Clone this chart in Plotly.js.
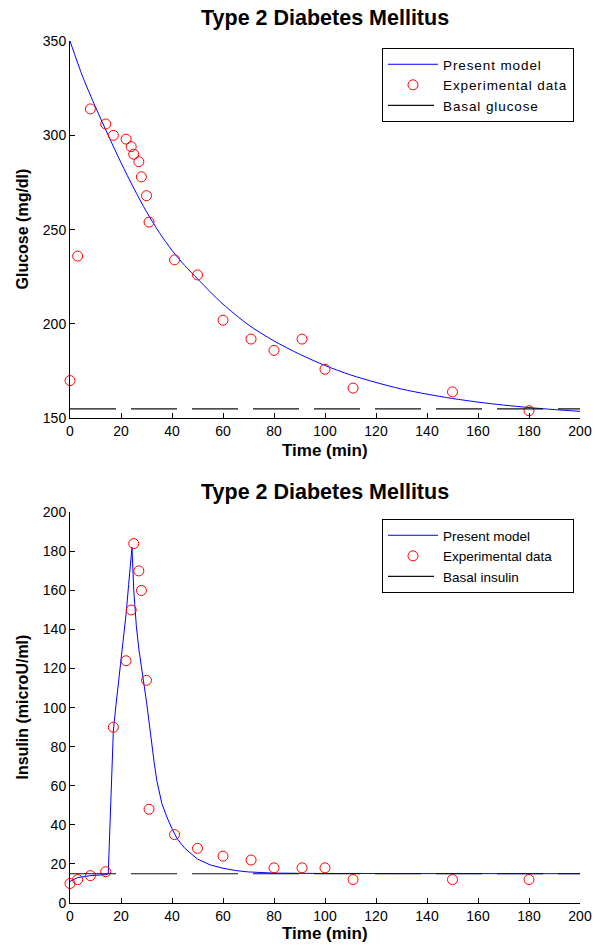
<!DOCTYPE html>
<html>
<head>
<meta charset="utf-8">
<script src="https://cdn.plot.ly/plotly-3.0.1.min.js"></script>
<style>
  html, body { margin: 0; padding: 0; background: #ffffff; }
  #chart { width: 605px; height: 945px; }
  .legendtext { letter-spacing: 0.9px; }
</style>
</head>
<body>
<div id="chart"></div>
<script>
// ---------------- data ----------------
const xTickVals = [0, 20, 40, 60, 80, 100, 120, 140, 160, 180, 200];
const glucoseTickVals = [150, 200, 250, 300, 350];
const insulinTickVals = [0, 20, 40, 60, 80, 100, 120, 140, 160, 180, 200];

// Experimental data (same sampling times for both panels)
const expTime = [0, 3, 8, 14, 17, 22, 24, 25, 27, 28, 30, 31, 41, 50, 60, 71, 80, 91, 100, 111, 150, 180];
const expGlucose = [170, 236, 314, 306, 300, 298, 294, 290, 286, 278, 268, 254, 234, 226, 202, 192, 186, 192, 176, 166, 164, 154];
const expInsulin = [10, 12, 14, 16, 90, 124, 150, 184, 170, 160, 114, 48, 35, 28, 24, 22, 18, 18, 18, 12, 12, 12];

// Present model – glucose
const modelGlucoseTime = [0, 5, 10, 15, 20, 25, 30, 35, 40, 45, 50, 55, 60, 70, 80, 90, 100, 110, 120, 130, 140, 150, 160, 170, 180, 190, 200];
const modelGlucose = [350, 331, 315, 300, 285.5, 272, 259.5, 248.5, 239, 231, 224, 217, 210.5, 199.5, 191, 184, 178, 173, 169, 165.5, 162.8, 160.5, 158.6, 157, 155.7, 154.6, 153.7];

// Present model – insulin
const modelInsulinTime = [0, 3, 8, 14, 15, 16, 17, 18, 19, 20, 21, 22, 23, 24, 24.3, 25, 25.5, 26, 27, 28, 29, 30, 31, 32, 33, 34, 35, 36, 38, 40, 42, 45, 50, 55, 60, 65, 70, 80, 100, 200];
const modelInsulin = [11, 13, 14, 14.5, 15, 52, 88, 101, 113, 122, 135, 148, 163, 180, 182, 160, 150, 142, 130, 120, 112, 103, 92, 82, 72, 63, 56, 51, 44, 38, 33, 28, 22.5, 19.5, 17.8, 16.6, 15.9, 15.3, 15.1, 15];

// Basal levels
const basalTime = [0, 200];
const basalGlucose = [155, 155];
const basalInsulin = [15, 15];

// ---------------- styling / layout ----------------
const FONT = 'Liberation Sans, Arial, Helvetica, sans-serif';
const W = 605, H = 945;
const M = { l: 70, r: 25, t: 41, b: 42 };
const py = pix => (H - M.b - pix) / (H - M.t - M.b);   // pixel row -> paper y
const px = pix => (pix - M.l) / (W - M.l - M.r);       // pixel col -> paper x

const modelLine = { color: '#0000ff', width: 1 };
const basalLine = { color: '#111111', width: 1.1, dash: '46px,15px' };
const expMarker = { symbol: 'circle-open', size: 10, color: '#ff0000', line: { width: 1, color: '#ff0000' } };

const traces = [
  { x: modelGlucoseTime, y: modelGlucose, type: 'scatter', mode: 'lines', name: 'Present model',
    line: Object.assign({ shape: 'spline', smoothing: 0.8 }, modelLine), xaxis: 'x', yaxis: 'y', legend: 'legend' },
  { x: expTime, y: expGlucose, type: 'scatter', mode: 'markers', name: 'Experimental data',
    marker: expMarker, cliponaxis: false, xaxis: 'x', yaxis: 'y', legend: 'legend' },
  { x: basalTime, y: basalGlucose, type: 'scatter', mode: 'lines', name: 'Basal glucose',
    line: basalLine, xaxis: 'x', yaxis: 'y', legend: 'legend' },

  { x: modelInsulinTime, y: modelInsulin, type: 'scatter', mode: 'lines', name: 'Present model',
    line: modelLine, xaxis: 'x2', yaxis: 'y2', legend: 'legend2' },
  { x: expTime, y: expInsulin, type: 'scatter', mode: 'markers', name: 'Experimental data',
    marker: expMarker, cliponaxis: false, xaxis: 'x2', yaxis: 'y2', legend: 'legend2' },
  { x: basalTime, y: basalInsulin, type: 'scatter', mode: 'lines', name: 'Basal insulin',
    line: basalLine, xaxis: 'x2', yaxis: 'y2', legend: 'legend2' }
];

const axisCommon = {
  showline: true, linecolor: '#000', linewidth: 1,
  ticks: 'inside', ticklen: 5, tickwidth: 1, tickcolor: '#000',
  showgrid: false, zeroline: false,
  tickfont: { family: FONT, size: 14, color: '#000' }
};

const legendCommon = {
  xanchor: 'left', yanchor: 'top',
  bgcolor: '#fff', bordercolor: '#000', borderwidth: 1,
  font: { family: FONT, size: 13.5, color: '#000' },
  itemwidth: 50, tracegroupgap: 0
};

const titleFont = { family: FONT, size: 21.5, color: '#000' };
const axTitleFont = { family: FONT, size: 17, color: '#000' };
const yTitleFont = { family: FONT, size: 16, color: '#000' };

const layout = {
  width: W, height: H,
  margin: M,
  paper_bgcolor: '#fff', plot_bgcolor: '#fff',
  showlegend: true,
  xaxis: Object.assign({}, axisCommon, { domain: [0, 1], range: [0, 200], tickvals: xTickVals, anchor: 'y' }),
  yaxis: Object.assign({}, axisCommon, { domain: [py(418.3), 1], range: [150, 350], tickvals: glucoseTickVals, anchor: 'x' }),
  xaxis2: Object.assign({}, axisCommon, { domain: [0, 1], range: [0, 200], tickvals: xTickVals, anchor: 'y2' }),
  yaxis2: Object.assign({}, axisCommon, { domain: [0, py(512.3)], range: [0, 200], tickvals: insulinTickVals, anchor: 'x2' }),
  legend: Object.assign({}, legendCommon, { x: px(382), y: py(48) }),
  legend2: Object.assign({}, legendCommon, { x: px(382), y: py(519) }),
  annotations: [
    { text: '<b>Type 2 Diabetes Mellitus</b>', xref: 'paper', yref: 'paper', x: 0.5, y: py(18),
      xanchor: 'center', yanchor: 'middle', showarrow: false, font: titleFont },
    { text: '<b>Type 2 Diabetes Mellitus</b>', xref: 'paper', yref: 'paper', x: 0.5, y: py(492),
      xanchor: 'center', yanchor: 'middle', showarrow: false, font: titleFont },
    { text: '<b>Time (min)</b>', xref: 'paper', yref: 'paper', x: 0.5, y: py(450),
      xanchor: 'center', yanchor: 'middle', showarrow: false, font: axTitleFont },
    { text: '<b>Time (min)</b>', xref: 'paper', yref: 'paper', x: 0.5, y: py(934),
      xanchor: 'center', yanchor: 'middle', showarrow: false, font: axTitleFont },
    { text: '<b>Glucose (mg/dl)</b>', xref: 'paper', yref: 'paper', x: px(22), y: py(229.5),
      xanchor: 'center', yanchor: 'middle', textangle: -90, showarrow: false, font: yTitleFont },
    { text: '<b>Insulin (microU/ml)</b>', xref: 'paper', yref: 'paper', x: px(22), y: py(707.5),
      xanchor: 'center', yanchor: 'middle', textangle: -90, showarrow: false, font: yTitleFont }
  ]
};

Plotly.newPlot('chart', traces, layout, { staticPlot: true, displayModeBar: false });
</script>
</body>
</html>
